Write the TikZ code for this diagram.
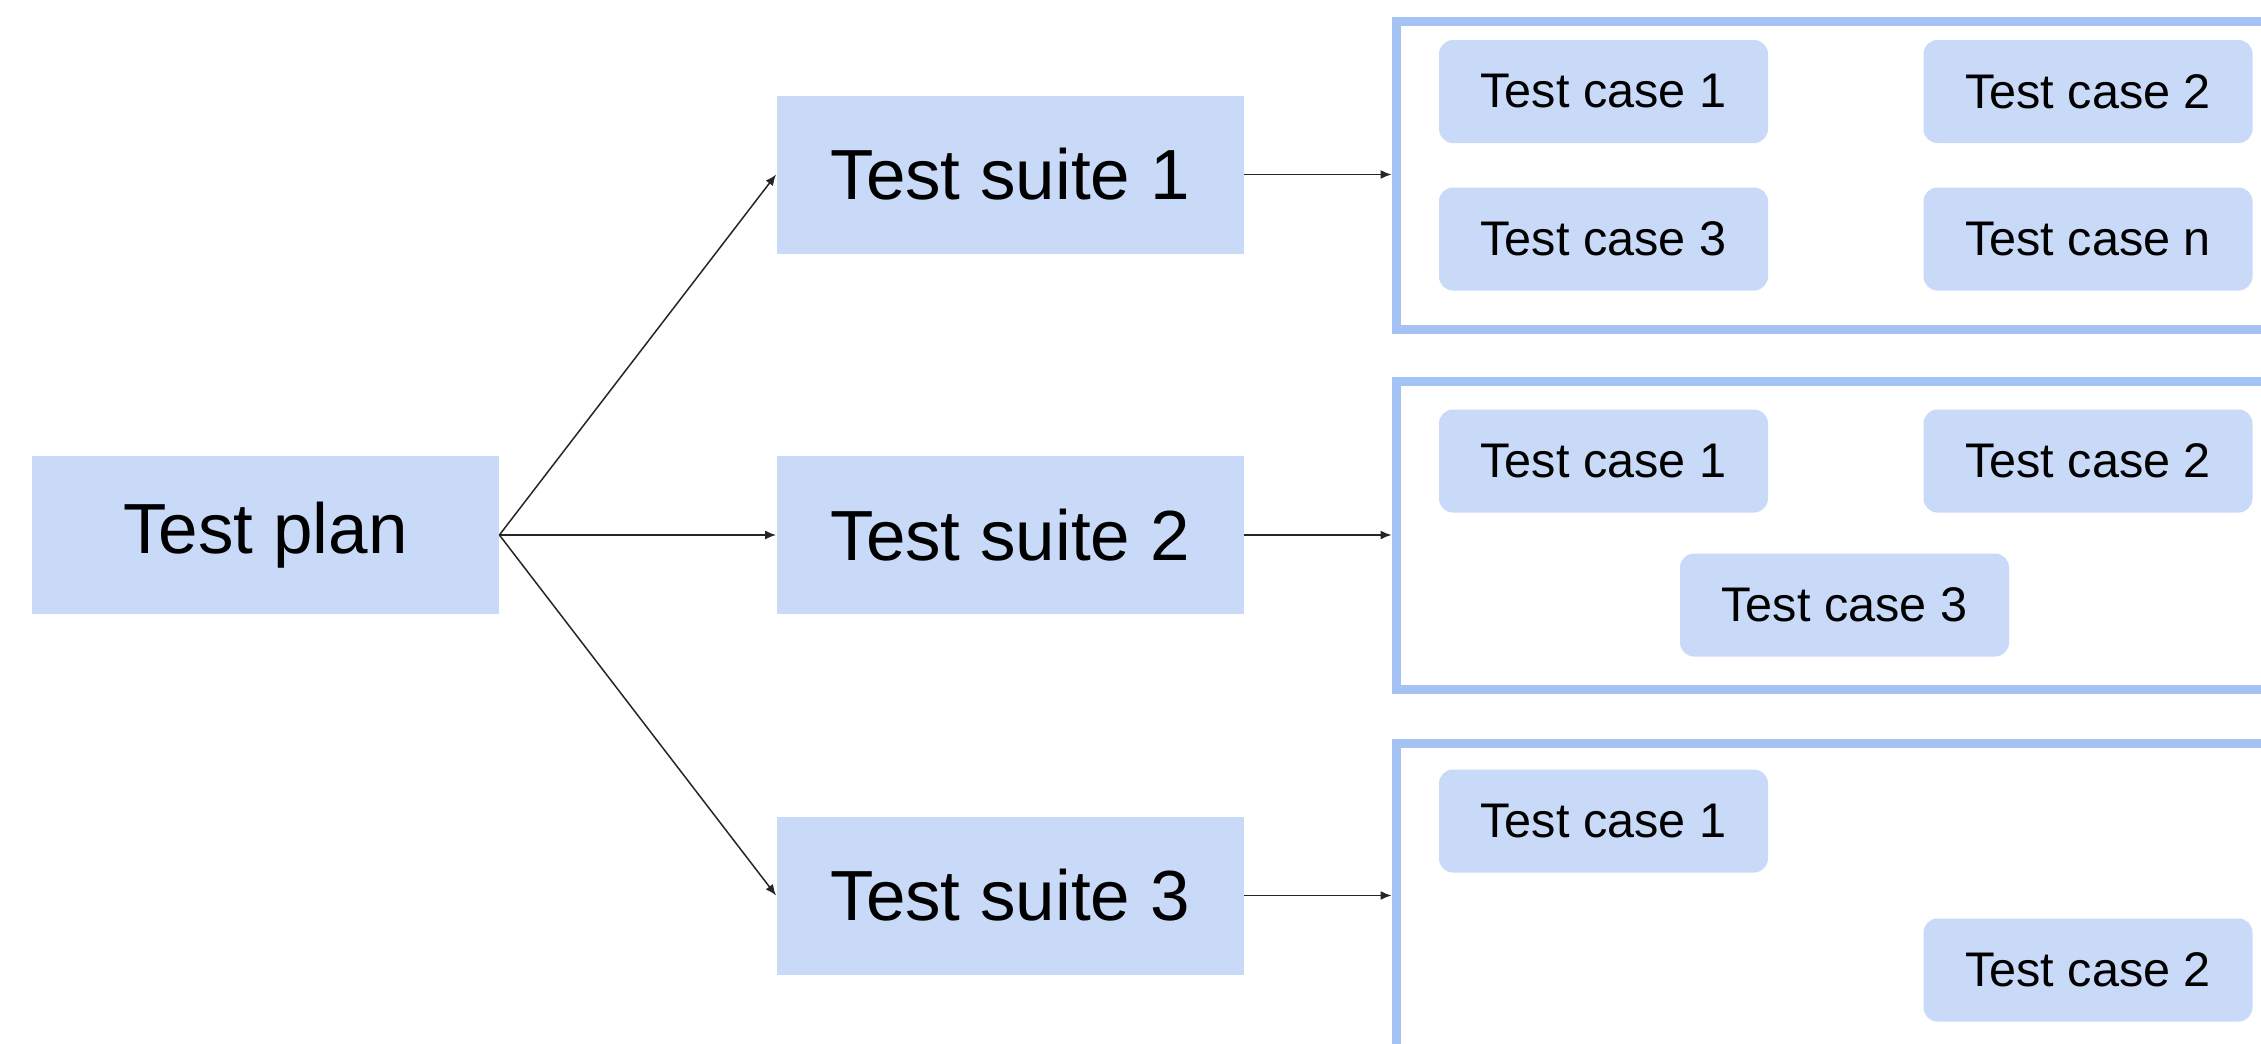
\documentclass[tikz,border=0pt]{standalone}
\usepackage{fontspec}
\setmainfont{Liberation Sans}
\usetikzlibrary{arrows.meta}
\definecolor{boxfill}{HTML}{C9DAF8}
\definecolor{frameblue}{HTML}{A4C2F4}
\begin{document}
\begin{tikzpicture}[x=0.5pt,y=-0.5pt,
  bigbox/.style={fill=boxfill, minimum width=233.5pt, minimum height=79pt,
    inner sep=0pt, font=\fontsize{35.5}{40}\selectfont},
  casebox/.style={fill=boxfill, rounded corners=7pt, minimum width=164.5pt,
    minimum height=51.5pt, inner sep=0pt, font=\fontsize{24.3}{28}\selectfont},
  frame/.style={draw=frameblue, line width=4.5pt, minimum width=452pt,
    minimum height=154pt, inner sep=0pt},
  link/.style={-{Latex[length=5.5pt,width=4.5pt]}, line width=0.75pt, black!85}
]
\useasboundingbox (0,0) rectangle (2261,1044);
\fill[white] (0,0) rectangle (2261,1044);
\begin{scope}
\clip (0,0) rectangle (2261,1044);

% plan and suites
\node[bigbox] (plan) at (265.5,535) {Test plan};
\node[bigbox] (s1) at (1010,174.5) {Test suite 1};
\node[bigbox] (s2) at (1010,535) {Test suite 2};
\node[bigbox] (s3) at (1010,895.5) {Test suite 3};

% suite frames, running past the right edge
\node[frame] (f1) at (1848,175) {};
\node[frame] (f2) at (1848,535) {};
\node[frame] (f3) at (1848,897) {};

% cases of suite 1
\node[casebox] (a1) at (1603.5,91.5) {Test case 1};
\node[casebox] (a2) at (2088,91.5) {Test case 2};
\node[casebox] (a3) at (1603.5,239) {Test case 3};
\node[casebox] (an) at (2088,239) {Test case n};

% cases of suite 2
\node[casebox] (b1) at (1603.5,461) {Test case 1};
\node[casebox] (b2) at (2088,461) {Test case 2};
\node[casebox] (b3) at (1844.5,605) {Test case 3};

% cases of suite 3
\node[casebox] (c1) at (1603.5,821) {Test case 1};
\node[casebox] (c2) at (2088,970) {Test case 2};

% connectors
\draw[link] (plan.east) -- (s1.west);
\draw[link] (plan.east) -- (s2.west);
\draw[link] (plan.east) -- (s3.west);
\draw[link] (s1.east) -- (s1.east -| f1.west);
\draw[link] (s2.east) -- (s2.east -| f2.west);
\draw[link] (s3.east) -- (s3.east -| f3.west);
\end{scope}
\end{tikzpicture}
\end{document}
